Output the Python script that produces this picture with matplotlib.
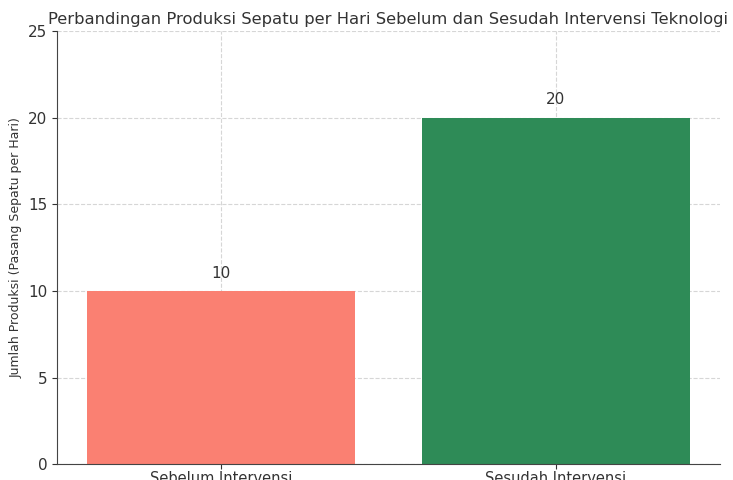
import matplotlib.pyplot as plt

categories = ["Sebelum Intervensi", "Sesudah Intervensi"]
produksi = [10, 20]
warna = ["#FA8072", "#2E8B57"]

fig = plt.figure(figsize=(7.33, 4.8), dpi=100)
ax = fig.add_axes([0.078, 0.033, 0.904, 0.902])

bars = ax.bar(categories, produksi, color=warna, width=0.8, zorder=2)
for b, v in zip(bars, produksi):
    ax.text(b.get_x() + b.get_width() / 2, v + 0.6, str(v),
            ha="center", va="bottom", fontsize=11, color="#333333")

ax.set_ylim(0, 25)
ax.set_yticks([0, 5, 10, 15, 20, 25])
ax.grid(True, linestyle="--", color="#cccccc", alpha=0.8, zorder=0)
ax.set_axisbelow(True)
ax.spines["top"].set_visible(False)
ax.spines["right"].set_visible(False)
for s in ["left", "bottom"]:
    ax.spines[s].set_color("#444444")
ax.tick_params(colors="#333333", labelsize=11)
ax.tick_params(axis="x", pad=1.5, labelsize=10.5)
ax.set_ylabel("Jumlah Produksi (Pasang Sepatu per Hari)", fontsize=9, color="#333333")
ax.set_title("Perbandingan Produksi Sepatu per Hari Sebelum dan Sesudah Intervensi Teknologi",
             fontsize=11.8, color="#333333", pad=5)

fig.savefig("out.png", dpi=100)
